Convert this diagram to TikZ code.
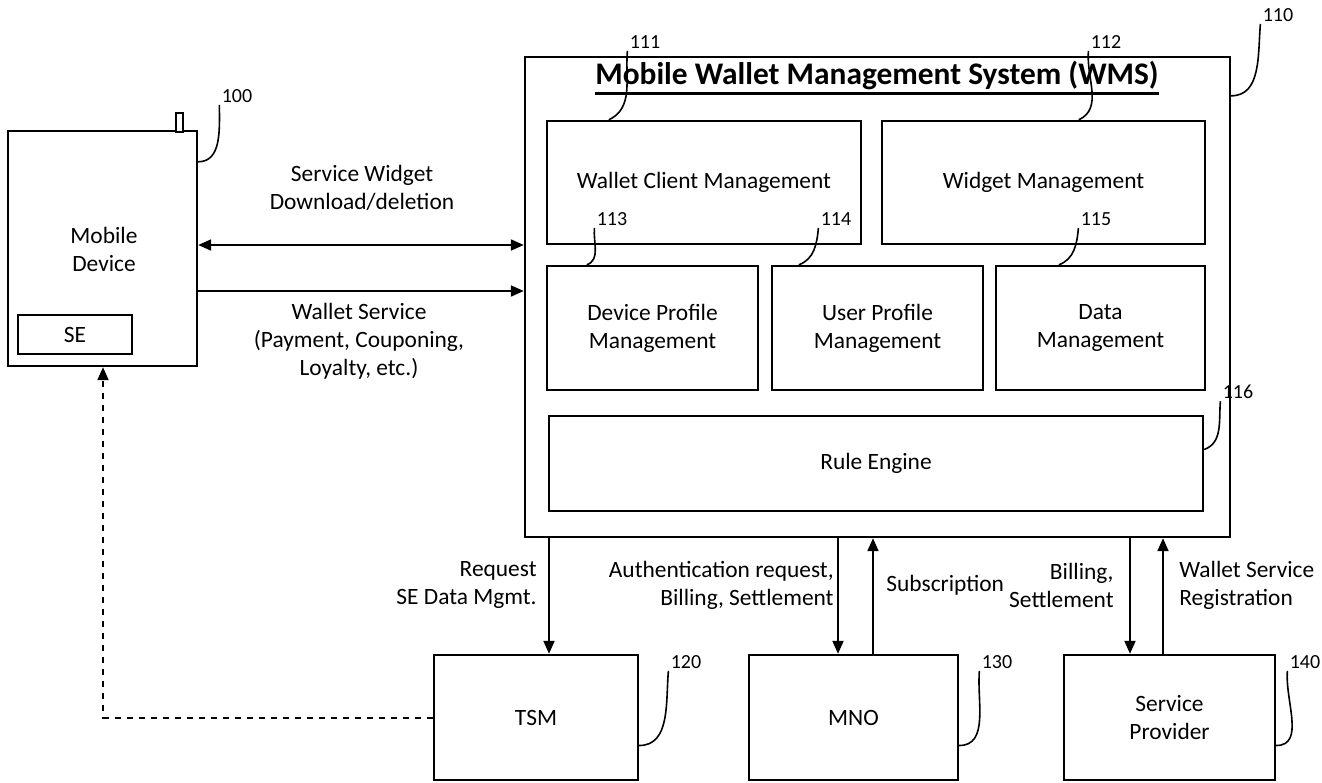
\documentclass[tikz,border=0pt]{standalone}
\usepackage{fontspec}
\setmainfont{Carlito}
\usetikzlibrary{arrows.meta}
\begin{document}
\begin{tikzpicture}[x=0.5pt,y=-0.5pt,
  box/.style={draw,line width=1.2pt,inner sep=0pt,align=center,font=\fontsize{11.7pt}{14pt}\selectfont},
  txt/.style={inner sep=0pt,font=\fontsize{11.7pt}{14pt}\selectfont},
  num/.style={inner sep=1pt,font=\fontsize{10pt}{12pt}\selectfont},
  arr/.style={line width=1pt,-{Triangle[length=6.5pt,width=5.5pt]}},
  darr/.style={line width=1pt,{Triangle[length=6.5pt,width=5.5pt]}-{Triangle[length=6.5pt,width=5.5pt]}},
  lead/.style={line width=0.8pt}]
\useasboundingbox (0,0) rectangle (1322,782);

% Mobile device
\node[box,minimum width=94.5pt,minimum height=117.5pt] (mob) at (102.5,248.5) {};
\node[txt,align=center] (mobt) at (104,249) {Mobile\\Device};
\node[box,minimum width=57pt,minimum height=19.5pt] (se) at (75,334.5) {SE};
\draw[line width=1.2pt,fill=white] (176,113) rectangle (183,132);
\node[num] (n100) at (237,96) {100};
\draw[lead] ([yshift=-16pt]mob.north east) to[out=0,in=-90] (n100.south west);

% WMS
\node[box,minimum width=352.5pt,minimum height=240pt] (wms) at (877.5,297) {};
\node[inner sep=0pt,font=\fontsize{15.7pt}{18pt}\selectfont\bfseries] (title) at (877,76) {Mobile Wallet Management System (WMS)};
\draw[line width=1.3pt] ([yshift=-1.5pt]title.south west) -- ([yshift=-1.5pt]title.south east);
\node[num] (n110) at (1278,15) {110};
\draw[lead] ([yshift=-20pt]wms.north east) to[out=0,in=-95] (n110.south west);

\node[box,minimum width=157pt,minimum height=61.5pt] (wcm) at (704,182.5) {Wallet Client Management};
\node[box,minimum width=161.5pt,minimum height=61.5pt] (wm) at (1043.5,182.5) {Widget Management};
\node[box,minimum width=105.5pt,minimum height=62pt] (dpm) at (652.5,328) {Device Profile\\Management};
\node[box,minimum width=105.5pt,minimum height=62pt] (upm) at (877.5,328) {User Profile\\Management};
\node[box,minimum width=104.5pt,minimum height=62pt] (dm) at (1100.5,328) {Data\\Management};
\node[box,minimum width=327pt,minimum height=47.5pt] (re) at (876,463.5) {Rule Engine};

\node[num] (n111) at (645,42) {111};
\node[num] (n112) at (1106,42) {112};
\node[num] (n113) at (612,219) {113};
\node[num] (n114) at (836,219) {114};
\node[num] (n115) at (1096,219) {115};
\node[num] (n116) at (1238,392) {116};
\draw[lead] ([xshift=31.5pt]wcm.north west) to[out=25,in=-95] (n111.south west);
\draw[lead] ([xshift=99pt]wm.north west) to[out=25,in=-95] (n112.south west);
\draw[lead] ([xshift=20.5pt]dpm.north west) to[out=20,in=-95] (n113.south west);
\draw[lead] ([xshift=14pt]upm.north west) to[out=20,in=-95] (n114.south west);
\draw[lead] ([xshift=32pt]dm.north west) to[out=20,in=-95] (n115.south west);
\draw[lead] ([yshift=7pt]re.east) to[out=20,in=-95] (n116.south west);

% Mobile <-> WMS arrows
\coordinate (y1) at (0,245);
\coordinate (y2) at (0,291);
\draw[darr] (mob.east |- y1) -- (wms.west |- y1);
\draw[arr] (mob.east |- y2) -- (wms.west |- y2);
\node[txt,align=center] (l1) at (362,188) {Service Widget\\Download/deletion};
\node[txt,align=center] (l2) at (359,341) {Wallet Service\\(Payment, Couponing,\\Loyalty, etc.)};

% Bottom boxes
\node[box,minimum width=102pt,minimum height=62.5pt] (tsm) at (536,717.5) {TSM};
\node[box,minimum width=104.5pt,minimum height=62.5pt] (mno) at (853.5,717.5) {MNO};
\node[box,minimum width=105.5pt,minimum height=62.5pt] (sp) at (1169.5,717.5) {Service\\Provider};
\node[num] (n120) at (686,662) {120};
\node[num] (n130) at (997,662) {130};
\node[num] (n140) at (1305,662) {140};
\draw[lead] ([yshift=-14pt]tsm.east) to[out=0,in=-95] (n120.south west);
\draw[lead] ([yshift=-14pt]mno.east) to[out=0,in=-95] (n130.south west);
\draw[lead] ([yshift=-14pt]sp.east) to[out=0,in=-95] (n140.south west);

% Vertical arrows
\coordinate (xa) at (549,0);
\coordinate (xb) at (838,0);
\coordinate (xc) at (873,0);
\coordinate (xd) at (1130,0);
\coordinate (xe) at (1163,0);
\draw[arr] (wms.south -| xa) -- (tsm.north -| xa);
\draw[arr] (wms.south -| xb) -- (mno.north -| xb);
\draw[arr] (mno.north -| xc) -- (wms.south -| xc);
\draw[arr] (wms.south -| xd) -- (sp.north -| xd);
\draw[arr] (sp.north -| xe) -- (wms.south -| xe);

\node[txt,align=right,anchor=east] (l3) at (537,585) {Request\\SE Data Mgmt.};
\node[txt,align=right,anchor=east] (l4) at (834,585) {Authentication request,\\Billing, Settlement};
\node[txt,anchor=west] (l5) at (886,585) {Subscription};
\node[txt,align=right,anchor=east] (l6) at (1114,585) {Billing,\\Settlement};
\node[txt,align=left,anchor=west] (l7) at (1179,585) {Wallet Service\\Registration};

% Dashed TSM -> SE
\coordinate (xs) at (103,0);
\draw[arr,dashed] (tsm.west) -| (mob.south -| xs);
\end{tikzpicture}
\end{document}
